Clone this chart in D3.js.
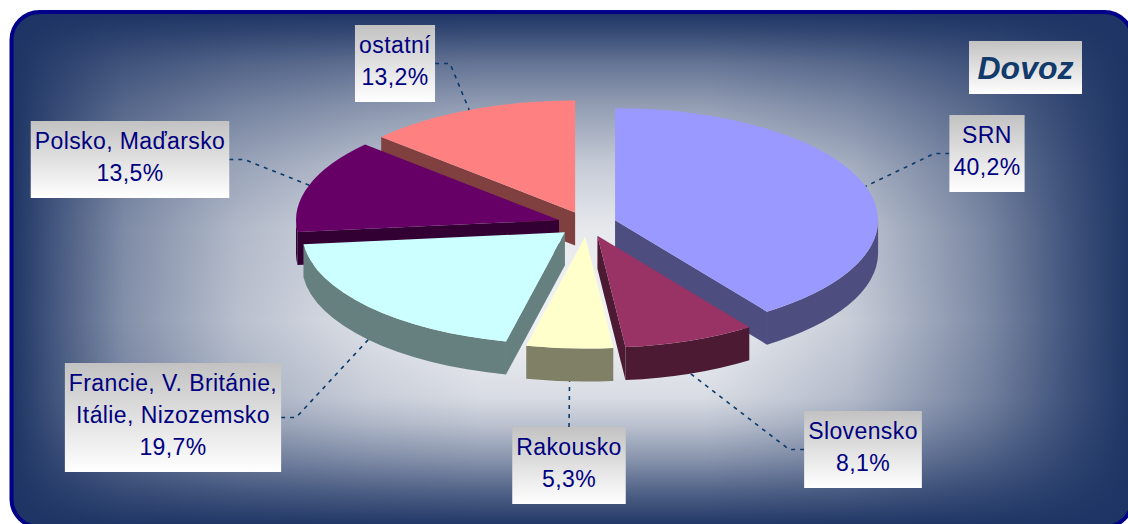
<!DOCTYPE html>
<html>
<head>
<meta charset="utf-8">
<script src="https://cdn.jsdelivr.net/npm/d3@7"></script>
<style>
  body { margin: 0; background: #fff; }
  svg { display: block; }
</style>
</head>
<body>
<svg id="chart"></svg>
<script>
// Dovoz - podíl zemí (%)
const categories = ['SRN', 'Slovensko', 'Rakousko', 'Francie, V. Británie, Itálie, Nizozemsko', 'Polsko, Maďarsko', 'ostatní'];
const values = [40.2, 8.1, 5.3, 19.7, 13.5, 13.2];
const labelLines = [
  ['SRN', '40,2%'],
  ['Slovensko', '8,1%'],
  ['Rakousko', '5,3%'],
  ['Francie, V. Británie,', 'Itálie, Nizozemsko', '19,7%'],
  ['Polsko, Maďarsko', '13,5%'],
  ['ostatní', '13,2%']
];
const title = 'Dovoz';
const colors = ['#9999ff', '#993366', '#ffffcc', '#ccffff', '#660066', '#ff8080'];

// label box placement (center x, top y, where the leader leaves the box)
const labelLayout = [
  { cx: 987, top: 115, side: 'left' },
  { cx: 863, top: 411, side: 'left' },
  { cx: 569, top: 427, side: 'top' },
  { cx: 173, top: 363, side: 'right' },
  { cx: 130, top: 121, side: 'right' },
  { cx: 395, top: 25, side: 'right' }
];

const width = 1128, height = 524;
const navy = '#1d3464';

const svg = d3.select('#chart')
  .attr('width', width)
  .attr('height', height);

const defs = svg.append('defs');

// frame
const frame = { x: 11.5, y: 12, w: 1121, h: 515, r: 28 };

defs.append('clipPath').attr('id', 'frameClip')
  .append('rect')
  .attr('x', frame.x).attr('y', frame.y)
  .attr('width', frame.w).attr('height', frame.h)
  .attr('rx', frame.r);

function addGradient(id, vertical, stops) {
  const g = defs.append('linearGradient').attr('id', id)
    .attr('x1', 0).attr('y1', 0)
    .attr('x2', vertical ? 0 : 1).attr('y2', vertical ? 1 : 0);
  stops.forEach(s => {
    g.append('stop').attr('offset', s[0]).attr('stop-color', navy).attr('stop-opacity', s[1]);
  });
}
addGradient('hGrad', false, [[0, 1], [0.04, 0.8], [0.1, 0.52], [0.2, 0.27], [0.32, 0.09], [0.42, 0], [0.62, 0],
  [0.75, 0.2], [0.87, 0.55], [0.95, 0.85], [1, 1]]);
addGradient('vGrad', true, [[0, 1], [0.04, 0.88], [0.1, 0.66], [0.18, 0.45], [0.3, 0.2], [0.42, 0.05], [0.6, 0],
  [0.75, 0.12], [0.8, 0.25], [0.87, 0.5], [0.93, 0.75], [1, 1]]);

const boxGrad = defs.append('linearGradient').attr('id', 'boxGrad')
  .attr('x1', 0).attr('y1', 0).attr('x2', 0).attr('y2', 1);
boxGrad.append('stop').attr('offset', 0).attr('stop-color', '#c2c2c2');
boxGrad.append('stop').attr('offset', 1).attr('stop-color', '#ffffff');

const bg = svg.append('g').attr('clip-path', 'url(#frameClip)');
bg.append('rect').attr('x', 0).attr('y', 0).attr('width', width + 20).attr('height', height + 20)
  .attr('fill', '#f1f2f4');
bg.append('rect').attr('x', frame.x).attr('y', frame.y).attr('width', frame.w).attr('height', frame.h)
  .attr('fill', 'url(#hGrad)');
bg.append('rect').attr('x', frame.x).attr('y', frame.y).attr('width', frame.w).attr('height', frame.h)
  .attr('fill', 'url(#vGrad)');

// ---- 3D pie ----
const cx = 587, cy = 224, rx = 263, ry = 112, depth = 33, explode = 0.112;

const arcs = d3.pie().sort(null).value(d => d)(values);

arcs.forEach((a, i) => {
  a.mid = (a.startAngle + a.endAngle) / 2;
  a.ox = cx + explode * rx * Math.sin(a.mid);
  a.oy = cy - explode * ry * Math.cos(a.mid);
  a.color = colors[i];
  const c = d3.rgb(colors[i]);
  a.side = d3.rgb(c.r / 2, c.g / 2, c.b / 2).formatHex();
  a.index = i;
});

function pt(a, ang, dy) {
  return [a.ox + rx * Math.sin(ang), a.oy - ry * Math.cos(ang) + (dy || 0)];
}

function topPath(a) {
  const p0 = pt(a, a.startAngle), p1 = pt(a, a.endAngle);
  const large = (a.endAngle - a.startAngle) > Math.PI ? 1 : 0;
  return `M${a.ox},${a.oy}L${p0}A${rx},${ry} 0 ${large} 1 ${p1}Z`;
}

function radialFace(a, ang) {
  const p = pt(a, ang), q = pt(a, ang, depth);
  return `M${a.ox},${a.oy}L${p}L${q}L${a.ox},${a.oy + depth}Z`;
}

function outerWall(a) {
  const b0 = Math.max(a.startAngle, Math.PI / 2);
  const b1 = Math.min(a.endAngle, 3 * Math.PI / 2);
  if (b1 <= b0) return null;
  const p0 = pt(a, b0), p1 = pt(a, b1);
  const q0 = pt(a, b0, depth), q1 = pt(a, b1, depth);
  return `M${p0}A${rx},${ry} 0 0 1 ${p1}L${q1}A${rx},${ry} 0 0 0 ${q0}Z`;
}

// back slices first
const order = arcs.slice().sort((p, q) => (-Math.cos(p.mid)) - (-Math.cos(q.mid)));

const pieG = svg.append('g');
const walls = pieG.append('g');
order.forEach(a => {
  const g = walls.append('g');
  if (Math.sin(a.startAngle) < -1e-6) {
    g.append('path').attr('d', radialFace(a, a.startAngle)).attr('fill', a.side);
  }
  if (Math.sin(a.endAngle) > 1e-6) {
    g.append('path').attr('d', radialFace(a, a.endAngle)).attr('fill', a.side);
  }
  const w = outerWall(a);
  if (w) g.append('path').attr('d', w).attr('fill', a.side);
});

pieG.append('g').selectAll('path')
  .data(order)
  .join('path')
  .attr('d', topPath)
  .attr('fill', d => d.color);

// ---- labels ----
const fontFamily = '"Liberation Sans", Arial, sans-serif';
const lineH = 32;
const labels = svg.append('g');

arcs.forEach((a, i) => {
  const lay = labelLayout[i];
  const lines = labelLines[i];
  const g = labels.append('g');

  const text = g.append('text')
    .attr('font-family', fontFamily)
    .attr('font-size', 23)
    .attr('letter-spacing', 0.4)
    .attr('fill', '#000080')
    .attr('text-anchor', 'middle');
  lines.forEach((t, k) => {
    text.append('tspan')
      .attr('x', lay.cx)
      .attr('y', lay.top + 28 + k * lineH)
      .text(t);
  });
  const tw = text.node().getBBox().width;
  const bw = tw + 8;
  const bh = 28 + (lines.length - 1) * lineH + 17;
  const bx = lay.cx - bw / 2;

  g.insert('rect', 'text')
    .attr('x', bx).attr('y', lay.top)
    .attr('width', bw).attr('height', bh)
    .attr('fill', 'url(#boxGrad)');

  // leader line: from box edge to the slice rim
  const anchor = pt(a, a.mid, Math.cos(a.mid) < 0 ? depth : 0);
  let pts;
  if (lay.side === 'top') {
    pts = [[lay.cx, lay.top], anchor];
  } else if (lay.side === 'left') {
    const y = lay.top + bh / 2;
    pts = [[bx, y], [bx - 15, y], anchor];
  } else {
    const y = lay.top + bh / 2;
    pts = [[bx + bw, y], [bx + bw + 15, y], anchor];
  }
  labels.insert('path', 'g')
    .attr('d', d3.line()(pts))
    .attr('fill', 'none')
    .attr('stroke', '#0b3a6b')
    .attr('stroke-width', 1.6)
    .attr('stroke-dasharray', '4 5');
});

// title box
const tg = svg.append('g');
const tt = tg.append('text')
  .attr('x', 1025.5).attr('y', 79)
  .attr('font-family', fontFamily)
  .attr('font-size', 32)
  .attr('font-weight', 'bold')
  .attr('font-style', 'italic')
  .attr('fill', '#123a6b')
  .attr('text-anchor', 'middle')
  .text(title);
tg.insert('rect', 'text')
  .attr('x', 969).attr('y', 41).attr('width', 113).attr('height', 53)
  .attr('fill', 'url(#boxGrad)');

// frame border
svg.append('rect')
  .attr('x', frame.x).attr('y', frame.y)
  .attr('width', frame.w).attr('height', frame.h)
  .attr('rx', frame.r)
  .attr('fill', 'none')
  .attr('stroke', '#000088')
  .attr('stroke-width', 4);
</script>
</body>
</html>
